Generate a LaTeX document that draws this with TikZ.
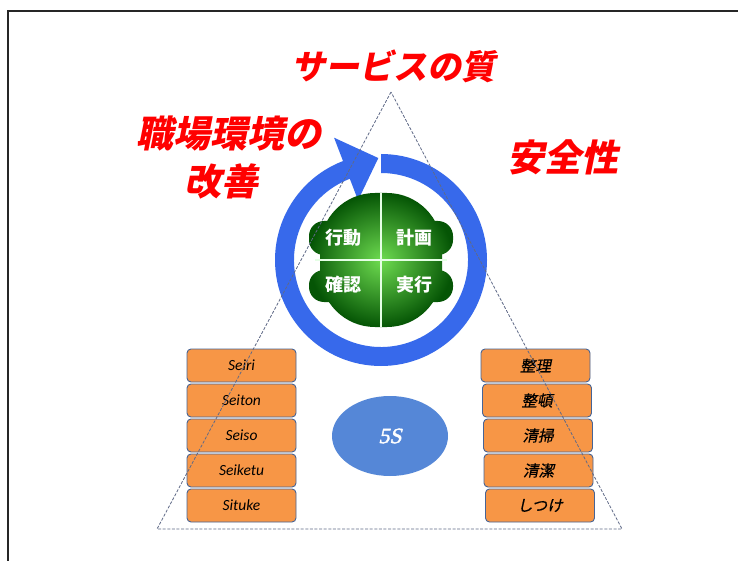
\documentclass[tikz,border=0pt]{standalone}
\usepackage{fontspec}
\setmainfont{Carlito}
\newfontfamily\cjkb{Noto Sans CJK JP}[FakeSlant=0.2]
\newfontfamily\cjkn{Noto Sans CJK JP}
\newfontfamily\cjki{Noto Sans CJK JP}[FakeSlant=0.2, FakeBold=0.6]
\newfontfamily\fivefont{Liberation Serif}[FakeSlant=0.22, FakeBold=2]
\usetikzlibrary{shapes.geometric}
\definecolor{ringblue}{RGB}{55,105,235}
\definecolor{boxorange}{RGB}{247,150,70}
\definecolor{boxedge}{RGB}{70,100,150}
\definecolor{ovalblue}{RGB}{85,135,215}
\definecolor{tri}{RGB}{95,105,135}
\definecolor{gdark}{RGB}{5,85,5}
\definecolor{glight}{RGB}{110,220,80}
\tikzset{
  redtxt/.style={text=red, font=\cjkb\bfseries\fontsize{34}{38}\selectfont, inner sep=0pt},
  latbox/.style={draw=boxedge, line width=0.9pt, fill=boxorange, rounded corners=4pt,
     minimum width=109pt, minimum height=33pt, inner sep=0pt, font=\itshape\fontsize{15.5}{17}\selectfont},
  jpbox/.style={latbox, font=\cjki\fontsize{15.5}{17}\selectfont},
  pdca/.style={text=white, font=\cjkn\bfseries\fontsize{18}{20}\selectfont, inner sep=0pt},
}
\begin{document}
\begin{tikzpicture}[x=1pt,y=-1pt]
\useasboundingbox (0,0) rectangle (738,561);
\clip (0,0) rectangle (738,561);
\fill[white] (0,0) rectangle (738,561);
\draw[line width=2pt, black!85] (8,11) rectangle (760,600);

% titles
\node[redtxt] (quality) at (393,66) {サービスの質};
\node[redtxt, font=\cjkb\bfseries\fontsize{37}{40}\selectfont] (env1) at (229,134) {職場環境の};
\node[redtxt, font=\cjkb\bfseries\fontsize{37}{40}\selectfont] (env2) at (221,181) {改善};
\node[redtxt, font=\cjkb\bfseries\fontsize{37}{40}\selectfont] (safety) at (563,157) {安全性};

% ring arrow
\begin{scope}[shift={(381,260)}, y=1pt]
  \fill[ringblue] (90:106) arc[start angle=90, end angle=-249, radius=106]
     -- (111:131) -- (91.5:102) -- (111:64) -- (111:87)
     arc[start angle=-249, end angle=90, radius=87] -- cycle;
\end{scope}

% green PDCA blob
\shade[inner color=glight, outer color=gdark]
  (320,193) [rounded corners=55pt] -- (442,193) -- (442,327) -- (320,327) -- cycle
  [sharp corners]
  (309,221) [rounded corners=15pt] -- (379,221) -- (379,255) -- (309,255) -- cycle
  [sharp corners]
  (383,221) [rounded corners=15pt] -- (453,221) -- (453,255) -- (383,255) -- cycle
  [sharp corners]
  (309,270) [rounded corners=15pt] -- (379,270) -- (379,302) -- (309,302) -- cycle
  [sharp corners]
  (383,270) [rounded corners=15pt] -- (453,270) -- (453,302) -- (383,302) -- cycle;
\coordinate (vt) at (381,193);
\coordinate (vb) at (381,327);
\coordinate (hl) at (315,260);
\coordinate (hr) at (447,260);
\draw[white!90!green, line width=1.5pt] (vt) -- (vb);
\draw[white!90!green, line width=1.5pt] (hl) -- (hr);
\node[pdca] (act) at (343,238) {行動};
\node[pdca] (plan) at (414,238) {計画};
\node[pdca] (check) at (343,285) {確認};
\node[pdca] (do) at (414,285) {実行};

% 5S oval
\node[ellipse, fill=ovalblue, minimum width=116pt, minimum height=80pt, inner sep=0pt,
  text=white, font=\fivefont\fontsize{22}{24}\selectfont] (fives) at (390,436) {5S};

% left boxes
\node[latbox] (l1) at (241.5,365.5) {Seiri};
\node[latbox] (l2) at (241.5,400.5) {Seiton};
\node[latbox] (l3) at (241.5,435.5) {Seiso};
\node[latbox] (l4) at (241.5,470.5) {Seiketu};
\node[latbox] (l5) at (241.5,505.5) {Situke};

% right boxes
\node[jpbox] (r1) at (535.5,365.5) {整理};
\node[jpbox] (r2) at (537,400.5) {整頓};
\node[jpbox] (r3) at (538,435.5) {清掃};
\node[jpbox] (r4) at (538.5,470.5) {清潔};
\node[jpbox] (r5) at (540,505.5) {しつけ};

% triangle
\coordinate (apex) at (391,92);
\coordinate (bl) at (157,529);
\coordinate (br) at (622,529);
\draw[tri, dash pattern=on 3pt off 1.6pt, line width=0.8pt] (apex) -- (bl) -- (br) -- cycle;
\end{tikzpicture}
\end{document}
